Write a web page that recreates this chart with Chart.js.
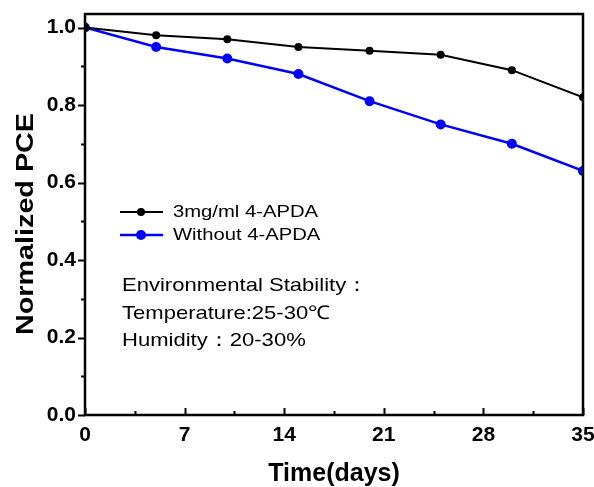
<!DOCTYPE html>
<html>
<head>
<meta charset="utf-8">
<script src="https://cdn.jsdelivr.net/npm/chart.js@4/dist/chart.umd.min.js"></script>
<style>
  html, body { margin: 0; padding: 0; background: #fff; }
  #wrap { width: 594px; height: 487px; }
</style>
</head>
<body>
<div id="wrap"><canvas id="estabilidad"></canvas></div>
<script>
const dias = [0, 5, 10, 15, 20, 25, 30, 35];
const pceConAPDA = [1.0, 0.98, 0.97, 0.95, 0.94, 0.93, 0.89, 0.82];
const pceSinAPDA = [1.0, 0.95, 0.92, 0.88, 0.81, 0.75, 0.70, 0.63];
const ticksX = [0, 7, 14, 21, 28, 35];
const ticksY = [0.0, 0.2, 0.4, 0.6, 0.8, 1.0];
const etiquetas = ['3mg/ml 4-APDA', 'Without 4-APDA'];
const notas = ['Environmental Stability：', 'Temperature:25-30℃', 'Humidity：20-30%'];

const fuente = "'Liberation Sans', Arial, sans-serif";

const puntos = (xs, ys) => xs.map((x, i) => ({ x, y: ys[i] }));

// texto estirado en horizontal, como en la figura original
const texto = (ctx, t, x, y, estirar) => {
  ctx.save();
  ctx.translate(x, y);
  ctx.scale(estirar, 1);
  ctx.fillText(t, 0, 0);
  ctx.restore();
};

// marco, ticks menores, leyenda y notas
const decorado = {
  id: 'decorado',
  afterDraw(chart) {
    const { ctx, chartArea: a, scales } = chart;
    const sx = scales.x;
    const sy = scales.y;
    ctx.save();
    ctx.strokeStyle = '#000';
    ctx.lineWidth = 2.5;
    ctx.strokeRect(a.left, a.top, a.right - a.left, a.bottom - a.top);

    ctx.lineWidth = 2;
    ctx.beginPath();
    for (let v = 0; v <= 1.0001; v += 0.1) {
      const py = Math.round(sy.getPixelForValue(v)) + 0.5;
      const largo = Math.round(v * 10) % 2 === 0 ? 7 : 4;
      ctx.moveTo(a.left - largo, py);
      ctx.lineTo(a.left, py);
    }
    for (let v = 0; v <= 35; v += 3.5) {
      const px = Math.round(sx.getPixelForValue(v)) + 0.5;
      const largo = Math.round(v * 2) % 14 === 0 ? 7 : 4;
      ctx.moveTo(px, a.bottom);
      ctx.lineTo(px, a.bottom - largo);
    }
    ctx.stroke();

    // leyenda
    ctx.font = '17px ' + fuente;
    ctx.textBaseline = 'middle';
    chart.data.datasets.forEach((ds, i) => {
      const y = 212 + i * 23;
      ctx.strokeStyle = ds.borderColor;
      ctx.lineWidth = ds.borderWidth;
      ctx.beginPath();
      ctx.moveTo(120, y);
      ctx.lineTo(163, y);
      ctx.stroke();
      ctx.fillStyle = ds.backgroundColor;
      ctx.beginPath();
      ctx.arc(141, y, ds.pointRadius, 0, Math.PI * 2);
      ctx.fill();
      ctx.fillStyle = '#000';
      texto(ctx, etiquetas[i], 173, y, 1.19);
    });

    // notas
    ctx.font = '19px ' + fuente;
    ctx.fillStyle = '#000';
    notas.forEach((t, i) => texto(ctx, t, 122, 286 + i * 27.5, 1.16));

    // titulos de ejes
    ctx.font = 'bold 25px ' + fuente;
    ctx.textAlign = 'center';
    ctx.textBaseline = 'alphabetic';
    texto(ctx, 'Time(days)', (a.left + a.right) / 2, 481, 1);
    ctx.translate(33, 224);
    ctx.rotate(-Math.PI / 2);
    ctx.font = 'bold 23px ' + fuente;
    texto(ctx, 'Normalized PCE', 0, 0, 1.25);
    ctx.restore();
  }
};

new Chart(document.getElementById('estabilidad'), {
  type: 'line',
  data: {
    datasets: [{
      label: etiquetas[0],
      data: puntos(dias, pceConAPDA),
      borderColor: '#000000',
      backgroundColor: '#000000',
      borderWidth: 2,
      pointRadius: 4,
      pointBorderWidth: 0,
      tension: 0
    }, {
      label: etiquetas[1],
      data: puntos(dias, pceSinAPDA),
      borderColor: '#0000ff',
      backgroundColor: '#0000ff',
      borderWidth: 2.5,
      pointRadius: 5,
      pointBorderWidth: 0,
      tension: 0
    }]
  },
  options: {
    responsive: true,
    maintainAspectRatio: false,
    animation: false,
    layout: { padding: { left: 0, right: 11, top: 14, bottom: 0 } },
    plugins: {
      legend: { display: false },
      tooltip: { enabled: false }
    },
    scales: {
      x: {
        type: 'linear',
        min: 0,
        max: 35,
        afterBuildTicks: (s) => { s.ticks = ticksX.map((v) => ({ value: v })); },
        afterFit: (s) => { s.height = 72; s.paddingLeft = 0; s.paddingRight = 0; },
        grid: { display: false, drawTicks: false },
        border: { display: false },
        ticks: {
          padding: 8,
          color: '#000',
          maxRotation: 0,
          font: { size: 21, weight: 'bold', family: fuente }
        }
      },
      y: {
        type: 'linear',
        min: 0,
        max: 1.035,
        afterBuildTicks: (s) => { s.ticks = ticksY.map((v) => ({ value: v })); },
        afterFit: (s) => { s.width = 85; s.paddingTop = 0; s.paddingBottom = 0; },
        grid: { display: false, drawTicks: false },
        border: { display: false },
        ticks: {
          padding: 9,
          color: '#000',
          callback: (v) => v.toFixed(1),
          font: { size: 21, weight: 'bold', family: fuente }
        }
      }
    }
  },
  plugins: [decorado]
});
</script>
</body>
</html>
